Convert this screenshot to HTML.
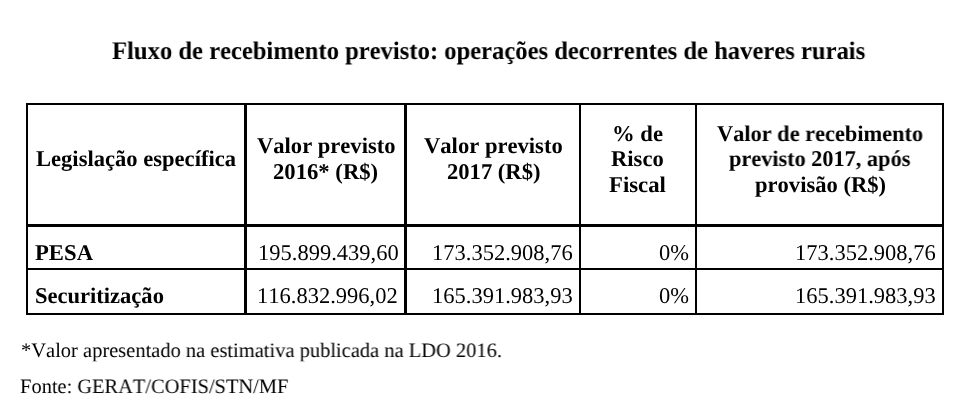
<!DOCTYPE html><html><head><meta charset="utf-8"><title>Fluxo de recebimento previsto</title><style>*{margin:0;padding:0}
html,body{width:974px;height:412px;background:#fff;overflow:hidden;position:relative}
.t{position:absolute;font-family:"Liberation Serif",serif;line-height:1;white-space:pre;font-kerning:none;text-rendering:geometricPrecision;color:#000;transform-origin:0 0;-webkit-font-smoothing:antialiased;will-change:transform}
.b{font-weight:bold}
.l{position:absolute;background:#000}
</style></head><body>
<div class="l" style="left:26px;top:103px;width:918px;height:2px"></div>
<div class="l" style="left:26px;top:313px;width:918px;height:2px"></div>
<div class="l" style="left:26px;top:103px;width:2px;height:212px"></div>
<div class="l" style="left:942px;top:103px;width:2px;height:212px"></div>
<div class="l" style="left:244px;top:103px;width:3px;height:212px"></div>
<div class="l" style="left:404px;top:103px;width:3px;height:212px"></div>
<div class="l" style="left:579px;top:103px;width:2px;height:212px"></div>
<div class="l" style="left:695px;top:103px;width:2px;height:212px"></div>
<div class="l" style="left:26px;top:224px;width:918px;height:3px"></div>
<div class="l" style="left:26px;top:268px;width:918px;height:2px"></div>
<div class="t b" style="left:111.83px;top:39.00px;font-size:25.4px;transform:scaleX(0.9693)">Fluxo de recebimento previsto: operações decorrentes de haveres rurais</div>
<div class="t b" style="left:36.03px;top:148.00px;font-size:22.5px;transform:scaleX(1.0034)">Legislação específica</div>
<div class="t b" style="left:256.60px;top:135.00px;font-size:22.5px;transform:scaleX(1.0029)">Valor previsto</div>
<div class="t b" style="left:273.19px;top:161.00px;font-size:22.5px;transform:scaleX(1.0078)">2016* (R$)</div>
<div class="t b" style="left:423.60px;top:135.00px;font-size:22.5px;transform:scaleX(1.0044)">Valor previsto</div>
<div class="t b" style="left:446.70px;top:161.00px;font-size:22.5px;transform:scaleX(1.0044)">2017 (R$)</div>
<div class="t b" style="left:612.28px;top:123.00px;font-size:22.5px;transform:scaleX(1.0083)">% de</div>
<div class="t b" style="left:611.00px;top:148.00px;font-size:22.5px;transform:scaleX(1.0039)">Risco</div>
<div class="t b" style="left:609.29px;top:174.00px;font-size:22.5px;transform:scaleX(1.0109)">Fiscal</div>
<div class="t b" style="left:716.50px;top:123.00px;font-size:22.5px;transform:scaleX(0.9932)">Valor de recebimento</div>
<div class="t b" style="left:729.10px;top:148.00px;font-size:22.5px;transform:scaleX(0.9902)">previsto 2017, após</div>
<div class="t b" style="left:754.90px;top:174.00px;font-size:22.5px;transform:scaleX(1.0031)">provisão (R$)</div>
<div class="t b" style="left:34.69px;top:242.00px;font-size:22.5px;transform:scaleX(1.0089)">PESA</div>
<div class="t" style="left:257.55px;top:242.00px;font-size:22.5px;transform:scaleX(1.0000)">195.899.439,60</div>
<div class="t" style="left:432.35px;top:242.00px;font-size:22.5px;transform:scaleX(1.0000)">173.352.908,76</div>
<div class="t" style="left:659.00px;top:242.00px;font-size:22.5px;transform:scaleX(1.0000)">0%</div>
<div class="t" style="left:794.85px;top:242.00px;font-size:22.5px;transform:scaleX(1.0000)">173.352.908,76</div>
<div class="t b" style="left:34.70px;top:285.00px;font-size:22.5px;transform:scaleX(1.0016)">Securitização</div>
<div class="t" style="left:257.28px;top:285.00px;font-size:22.5px;transform:scaleX(1.0000)">116.832.996,02</div>
<div class="t" style="left:431.85px;top:285.00px;font-size:22.5px;transform:scaleX(1.0000)">165.391.983,93</div>
<div class="t" style="left:659.00px;top:285.00px;font-size:22.5px;transform:scaleX(1.0000)">0%</div>
<div class="t" style="left:794.50px;top:285.00px;font-size:22.5px;transform:scaleX(1.0000)">165.391.983,93</div>
<div class="t" style="left:20.50px;top:341.00px;font-size:20.5px;transform:scaleX(0.9987)">*Valor apresentado na estimativa publicada na LDO 2016.</div>
<div class="t" style="left:20.20px;top:377.00px;font-size:20.5px;transform:scaleX(0.9963)">Fonte: GERAT/COFIS/STN/MF</div>
</body></html>
